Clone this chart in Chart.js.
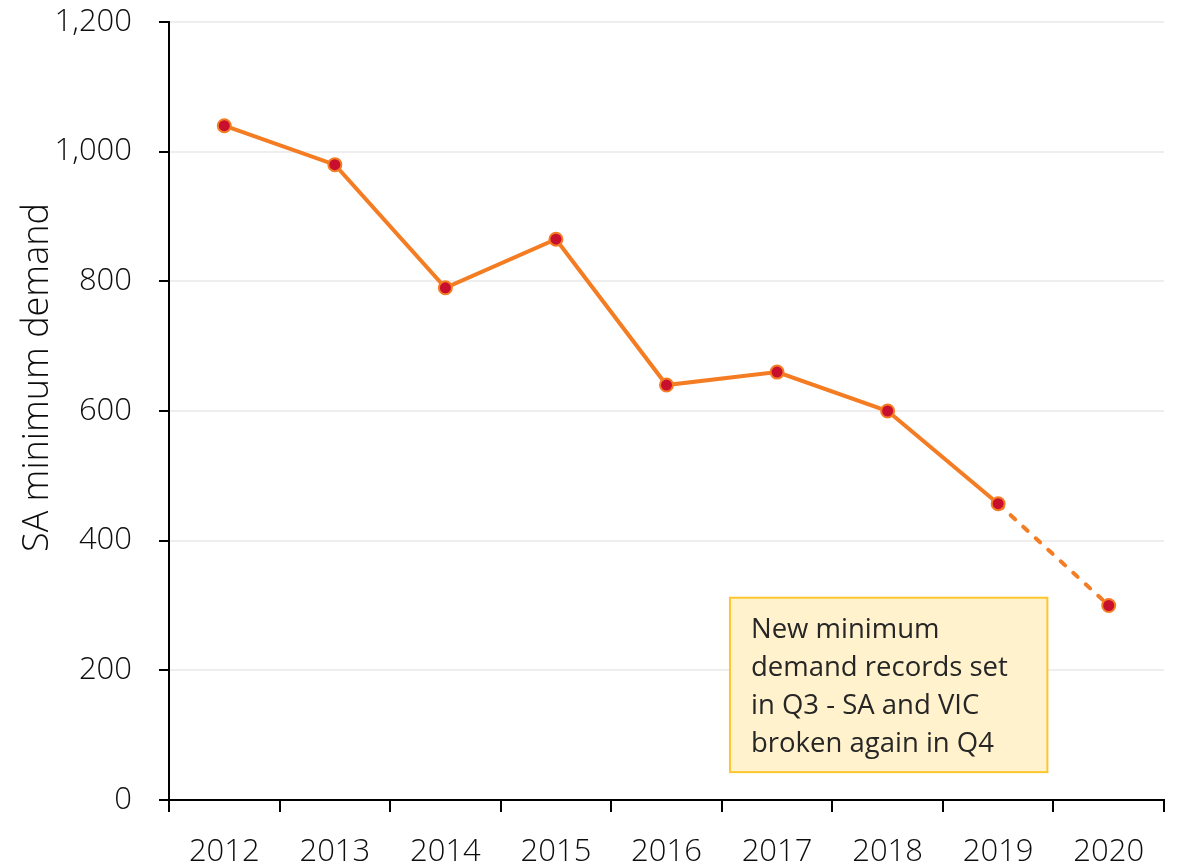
<!DOCTYPE html>
<html>
<head>
<meta charset="utf-8">
<script src="https://cdn.jsdelivr.net/npm/chart.js@4"></script>
<style>
  html, body { margin: 0; padding: 0; background: #fff; }
  #wrap { width: 1178px; height: 868px; }
</style>
</head>
<body>
<div id="wrap"><canvas id="myChart"></canvas></div>
<script>
// datos
const years = ['2012', '2013', '2014', '2015', '2016', '2017', '2018', '2019', '2020'];
const minDemand = [1040, 980, 790, 865, 640, 660, 600, 457, 300];
const yTitle = 'SA minimum demand';
const noteLines = ['New minimum', 'demand records set', 'in Q3 - SA and VIC', 'broken again in Q4'];

const orange = '#F47D24';
const red = '#C8102E';
const font = "'Open Sans', 'Noto Sans', sans-serif";

// titulo do eixo y + caixa de texto
const notePlugin = {
    id: 'note',
    afterDraw(chart) {
        const c = chart.ctx;
        const xs = chart.scales.x;
        const ys = chart.scales.y;
        const area = chart.chartArea;

        c.save();
        c.translate(38, area.top + (area.bottom - area.top) * 0.457);
        c.rotate(-Math.PI / 2);
        c.fillStyle = '#0D0D0D';
        c.font = '300 36px ' + font;
        c.textAlign = 'center';
        c.textBaseline = 'middle';
        c.fillText(yTitle, 0, 0);
        c.restore();

        const x0 = xs.getPixelForValue(4.574);
        const x1 = xs.getPixelForValue(7.445);
        const y0 = ys.getPixelForValue(312);
        const y1 = ys.getPixelForValue(43);
        c.save();
        c.fillStyle = '#FFF2CC';
        c.fillRect(x0, y0, x1 - x0, y1 - y0);
        c.strokeStyle = '#FFC52E';
        c.lineWidth = 2;
        c.strokeRect(x0, y0, x1 - x0, y1 - y0);
        c.fillStyle = '#262626';
        c.font = '27.5px ' + font;
        c.textBaseline = 'alphabetic';
        noteLines.forEach((t, i) => c.fillText(t, x0 + 21, y0 + 40 + i * 38));
        c.restore();
    }
};

const ctx = document.getElementById('myChart');

const data = {
    labels: years,
    datasets: [{
        data: minDemand,
        borderColor: orange,
        borderWidth: 4,
        borderCapStyle: 'round',
        pointBackgroundColor: red,
        pointBorderColor: orange,
        pointBorderWidth: 2,
        pointRadius: 6.5,
        tension: 0,
        segment: {
            borderDash: s => s.p1DataIndex === years.length - 1 ? [6, 11] : undefined
        }
    }]
};

const config = {
    type: 'line',
    data,
    plugins: [notePlugin],
    options: {
        responsive: true,
        maintainAspectRatio: false,
        animation: false,
        layout: { padding: { top: 0, right: 14, left: 4, bottom: 4 } },
        plugins: { legend: { display: false }, tooltip: { enabled: false } },
        scales: {
            x: {
                offset: true,
                afterFit(s) { s.height = 64; },
                grid: {
                    offset: true,
                    drawOnChartArea: false,
                    tickColor: '#000',
                    tickLength: 12,
                    lineWidth: 2
                },
                border: { color: '#000', width: 2 },
                ticks: { color: '#0D0D0D', font: { family: font, size: 31, weight: 300 }, padding: 22, maxRotation: 0 }
            },
            y: {
                min: 0,
                max: 1200,
                afterFit(s) { s.width = 165; s.paddingTop = 22; s.paddingBottom = 0; },
                grid: {
                    color: '#EEEEEE',
                    lineWidth: 2,
                    tickColor: '#000',
                    tickLength: 10
                },
                border: { color: '#000', width: 2 },
                ticks: { stepSize: 200, color: '#0D0D0D', font: { family: font, size: 31, weight: 300 }, padding: 27 }
            }
        }
    }
};

const Mychart = new Chart(ctx, config);
</script>
</body>
</html>
